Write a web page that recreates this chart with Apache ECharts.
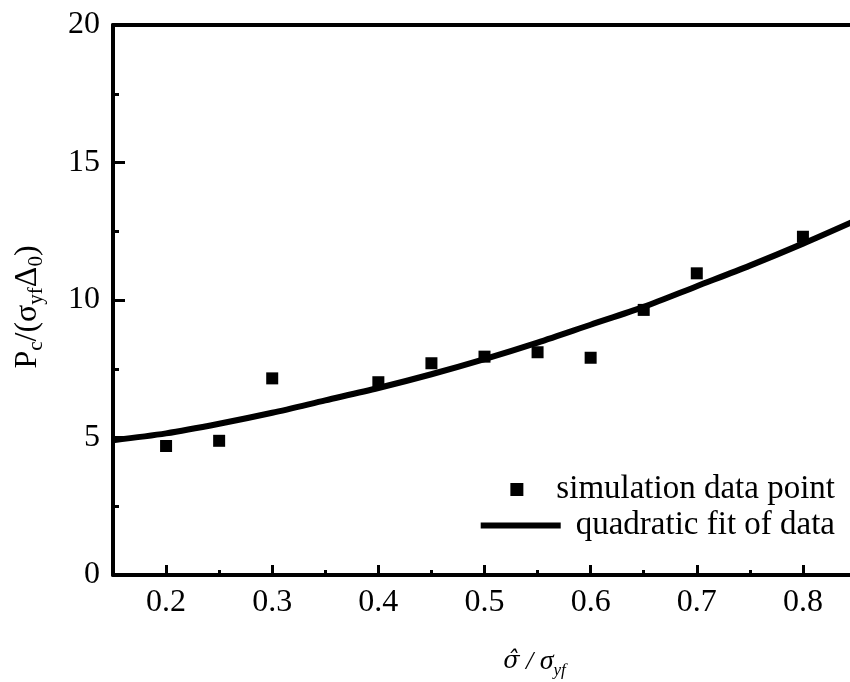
<!DOCTYPE html>
<html>
<head>
<meta charset="utf-8">
<script src="https://cdn.jsdelivr.net/npm/echarts@6/dist/echarts.min.js"></script>
<style>html,body{margin:0;padding:0;background:#fff}#c{width:850px;height:682px}</style>
</head>
<body>
<div id="c"></div>
<script>
// Data
const simX = [0.2, 0.25, 0.3, 0.4, 0.45, 0.5, 0.55, 0.6, 0.65, 0.7, 0.8];
const simY = [4.69, 4.88, 7.15, 7.01, 7.70, 7.94, 8.10, 7.90, 9.64, 10.97, 12.30];
const fitX = [0.15, 0.2, 0.25, 0.3, 0.35, 0.4, 0.45, 0.5, 0.55, 0.6, 0.65, 0.7, 0.75, 0.8, 0.85];
const fitY = [4.9, 5.15, 5.5, 5.9, 6.35, 6.8, 7.3, 7.85, 8.45, 9.1, 9.75, 10.5, 11.25, 12.05, 12.9];
const xMin = 0.15, xMax = 0.85, yMin = 0, yMax = 20;
const seriesNames = ['simulation data point', 'quadratic fit of data'];

const FONT = 'Liberation Serif';
const chart = echarts.init(document.getElementById('c'), null, {renderer: 'canvas'});
const gridBox = {left: 113, top: 25, width: 743, height: 550, containLabel: false, outerBoundsMode: 'none'};
const axisLineStyle = {color: '#000', width: 4};

const option = {
  animation: false,
  backgroundColor: '#fff',
  grid: [Object.assign({}, gridBox), Object.assign({}, gridBox)],
  xAxis: [
    {
      type: 'value', gridIndex: 0, position: 'bottom', min: xMin, max: xMax, interval: 0.05,
      axisLine: {show: true, onZero: false, lineStyle: axisLineStyle},
      axisTick: {show: true, inside: true, length: 5, lineStyle: {color: '#000', width: 3}},
      axisLabel: {
        fontFamily: FONT, fontSize: 32, color: '#000', margin: 12,
        formatter: v => (Math.abs(v * 10 - Math.round(v * 10)) < 1e-6 ? v.toFixed(1) : '')
      },
      splitLine: {show: false},
      name: '{h|σ\u0302}{n| / }{i|σ}{s|yf}',
      nameLocation: 'middle', nameGap: 70,
      nameTextStyle: {
        padding: [0, 0, 0, 100],
        rich: {
          h: {fontFamily: 'DejaVu Serif', fontStyle: 'italic', fontSize: 24, color: '#000', lineHeight: 34},
          i: {fontFamily: FONT, fontStyle: 'italic', fontSize: 28, color: '#000', lineHeight: 34},
          n: {fontFamily: FONT, fontStyle: 'italic', fontSize: 26, color: '#000', lineHeight: 34},
          s: {fontFamily: FONT, fontStyle: 'italic', fontSize: 17, color: '#000', lineHeight: 20, verticalAlign: 'bottom'}
        }
      }
    },
    {
      type: 'value', gridIndex: 1, position: 'bottom', min: xMin, max: xMax, splitNumber: 7,
      axisLine: {show: false},
      axisTick: {show: true, inside: true, length: 10, lineStyle: {color: '#000', width: 3}},
      axisLabel: {show: false},
      splitLine: {show: false}
    },
    {
      type: 'value', gridIndex: 0, position: 'top', min: xMin, max: xMax,
      axisLine: {show: true, onZero: false, lineStyle: axisLineStyle},
      axisTick: {show: false}, axisLabel: {show: false}, splitLine: {show: false}
    }
  ],
  yAxis: [
    {
      type: 'value', gridIndex: 0, position: 'left', min: yMin, max: yMax, interval: 5,
      axisLine: {show: true, onZero: false, lineStyle: axisLineStyle},
      axisTick: {show: true, inside: true, length: 12, lineStyle: {color: '#000', width: 3}},
      minorTick: {show: true, splitNumber: 2, length: 6, lineStyle: {color: '#000', width: 3}},
      axisLabel: {fontFamily: FONT, fontSize: 32, color: '#000', margin: 13},
      splitLine: {show: false},
      name: '{a|P}{s|c}{a|/(σ}{s|yf}{a|Δ}{s|0}{a|)}',
      nameLocation: 'middle', nameGap: 66, nameRotate: 90,
      nameTextStyle: {
        padding: [0, 14, 0, 0],
        rich: {
          a: {fontFamily: FONT, fontSize: 32, color: '#000', lineHeight: 38},
          s: {fontFamily: FONT, fontSize: 21, color: '#000', lineHeight: 18, verticalAlign: 'bottom'}
        }
      }
    },
    {
      type: 'value', gridIndex: 1, min: yMin, max: yMax,
      axisLine: {show: false}, axisTick: {show: false}, axisLabel: {show: false}, splitLine: {show: false}
    }
  ],
  legend: [
    {
      data: [seriesNames[0]], right: 10, top: 468, orient: 'vertical',
      itemWidth: 13, itemHeight: 13, icon: 'rect',
      itemStyle: {opacity: 1},
      textStyle: {fontFamily: FONT, fontSize: 33, color: '#000', padding: [0, 0, 0, 28]}
    },
    {
      data: [seriesNames[1]], right: 10, top: 504, orient: 'vertical',
      itemWidth: 80, itemHeight: 6, icon: 'rect',
      textStyle: {fontFamily: FONT, fontSize: 33, color: '#000', padding: [0, 0, 0, 10]}
    }
  ],
  series: [
    {
      name: seriesNames[0], type: 'scatter', xAxisIndex: 0, yAxisIndex: 0,
      symbol: 'rect', symbolSize: 12, itemStyle: {color: '#000', opacity: 1},
      data: simX.map((x, i) => [x, simY[i]]), z: 3
    },
    {
      name: seriesNames[1], type: 'line', xAxisIndex: 0, yAxisIndex: 0,
      smooth: 0.3, symbol: 'none', clip: true,
      lineStyle: {color: '#000', width: 6}, itemStyle: {color: '#000'},
      data: fitX.map((x, i) => [x, fitY[i]]), z: 2
    }
  ]
};
chart.setOption(option);
</script>
</body>
</html>
